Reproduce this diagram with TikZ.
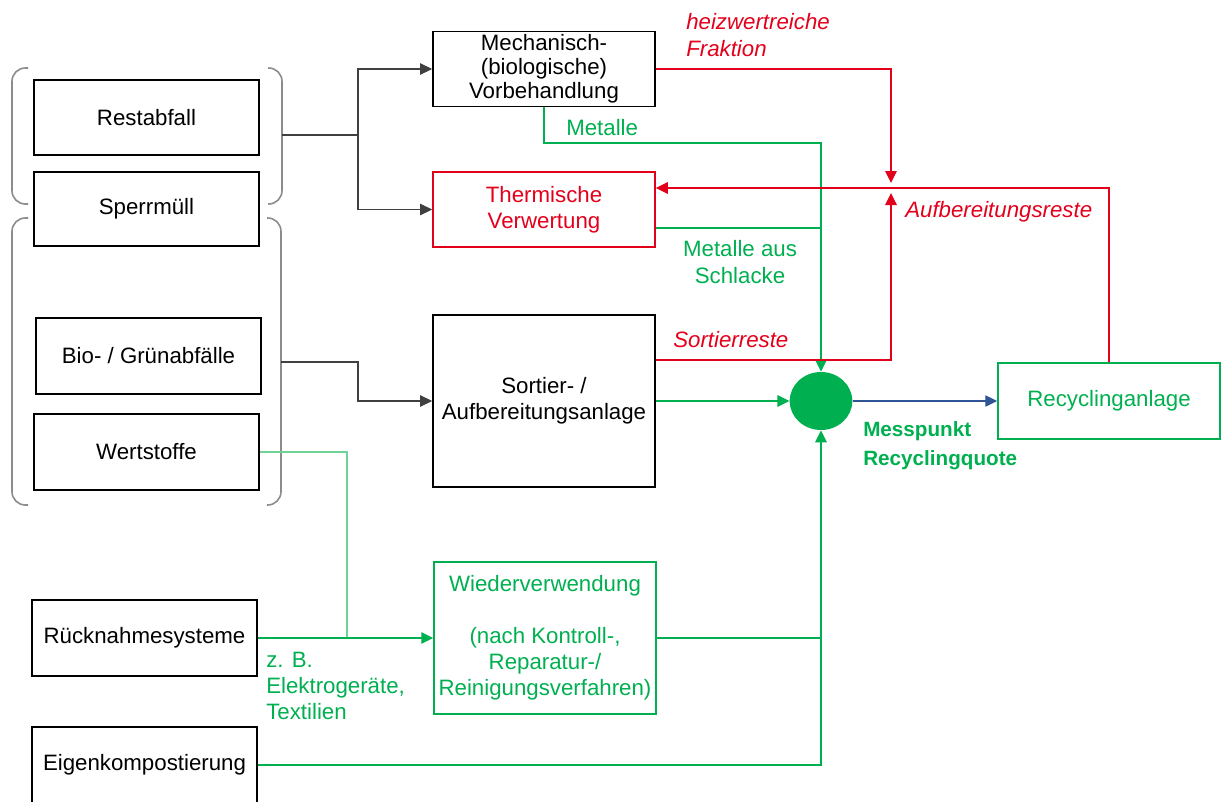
\documentclass[tikz,border=0pt]{standalone}
\usepackage{fontspec}
\setmainfont{Liberation Sans}
\usetikzlibrary{arrows.meta,calc,shapes.geometric}
\definecolor{myred}{HTML}{E3001B}
\definecolor{mygreen}{HTML}{00B050}
\definecolor{mylgreen}{HTML}{6FD395}
\definecolor{mygray}{HTML}{404040}
\definecolor{bracegray}{HTML}{8C8C8C}
\definecolor{myblue}{HTML}{2F5597}
\begin{document}
\begin{tikzpicture}[x=0.75pt,y=-0.75pt,
  every node/.style={font=\fontsize{16.7}{19.5}\selectfont},
  box/.style={draw=black, line width=1.2pt, inner sep=0pt, align=center},
  srcbox/.style={box, minimum width=168.75pt, minimum height=56.25pt},
  procbox/.style={box, minimum width=166.5pt, minimum height=56.25pt},
  tip/.style={-{Triangle[length=9pt,width=8.5pt]}},
  gcon/.style={draw=mygray, line width=0.9pt},
  grn/.style={draw=mygreen, line width=1.4pt},
  lgrn/.style={draw=mylgreen, line width=1.1pt},
  rd/.style={draw=myred, line width=1.4pt},
  bl/.style={draw=myblue, line width=0.9pt},
  brace/.style={draw=bracegray, line width=1.2pt, rounded corners=10pt},
  lbl/.style={inner sep=0pt, align=left, anchor=west}
]
\useasboundingbox (0,0) rectangle (1222,801);

% source boxes
\node[srcbox] (rest) at (146.5,117.5) {Restabfall};
\node[srcbox, minimum height=55.5pt] (sperr) at (146.5,209) {Sperrmüll};
\node[srcbox, minimum height=57pt] (bio) at (148.5,356) {Bio- / Grünabfälle};
\node[srcbox, minimum height=57pt] (wert) at (146.5,452) {Wertstoffe};
\node[srcbox, minimum height=57pt] (rueck) at (144.5,638) {Rücknahmesysteme};
\node[srcbox, minimum height=57pt] (eigen) at (144.5,765) {Eigenkompostierung};

% braces
\draw[brace] (28,68) -- (12,68) -- (12,204) -- (28,204);
\draw[brace] (268,68) -- (282,68) -- (282,204) -- (268,204);
\draw[brace] (28,218) -- (12,218) -- (12,505) -- (28,505);
\draw[brace] (267,218) -- (281,218) -- (281,505) -- (267,505);
\coordinate (ub) at (282,135);
\coordinate (lb) at (281,362);

% process boxes
\node[procbox, font=\fontsize{16.7}{18}\selectfont] (mech) at (544,69) {Mechanisch-\\(biologische)\\Vorbehandlung};
\node[procbox, draw=myred, text=myred] (therm) at (544,209.5) {Thermische\\Verwertung};
\node[procbox, minimum height=129pt] (sort) at (544,401) {Sortier- /\\Aufbereitungsanlage};
\node[procbox, draw=mygreen, text=mygreen, line width=1.1pt, minimum height=114pt] (wieder) at (545,638) {Wiederverwendung\\[19.5pt](nach Kontroll-,\\Reparatur-/\\Reinigungsverfahren)};
\node[procbox, draw=mygreen, text=mygreen, line width=1.1pt, minimum height=57pt] (recyc) at (1109,401) {Recyclinganlage};
\node[ellipse, fill=mygreen, minimum width=47pt, minimum height=43.5pt, inner sep=0pt] (mp) at (821,401) {};

% gray connectors
\draw[gcon] (ub) -- (358,135) coordinate (ubj);
\draw[gcon, tip] (ubj) |- (mech.west);
\draw[gcon, tip] (ubj) |- (therm.west);
\draw[gcon, tip] (lb) -- (358,362) |- (sort.west);

% green connectors
\draw[grn, tip] (mech.south) -- ++(0,35.5) -| (mp.north);
\coordinate (tg) at ($(therm.east)+(0,18.5)$);
\draw[grn] (tg) -- (tg -| mp.north);
\draw[grn, tip] (sort.east) -- (mp.west);
\draw[grn, tip] (wieder.east) -| (mp.south);
\draw[grn] (eigen.east) -| (wieder.east -| mp.south);
\coordinate (wj) at (347,638);
\draw[lgrn] (wert.east) -| (wj);
\draw[grn, tip] (rueck.east) -- (wieder.west);

% red connectors
\coordinate (jt) at (891,183);
\coordinate (jb) at (891,193);
\coordinate (tin) at ($(therm.east)+(0,-21.5)$);
\coordinate (so) at ($(sort.east)+(0,-41)$);
\draw[rd, tip] (mech.east) -| (jt);
\draw[rd, tip] (recyc.north) |- (tin);
\draw[rd, tip] (so) -| (jb);

% blue connector
\draw[bl, tip] (mp.east) -- (recyc.west);

% labels
\node[lbl, text=myred, font=\fontsize{16.7}{20.25}\itshape] (l1) at (686,35.5) {heizwertreiche\\Fraktion};
\node[lbl, text=mygreen] (l2) at (566,128) {Metalle};
\node[inner sep=0pt, align=center, text=mygreen, font=\fontsize{16.7}{20.25}\selectfont] (l3) at (740,262.5) {Metalle aus\\Schlacke};
\node[lbl, text=myred, font=\fontsize{16.7}{19.5}\itshape] (l4) at (905,212) {Aufbereitungsreste};
\node[lbl, text=myred, font=\fontsize{16.7}{19.5}\itshape] (l5) at (673,340) {Sortierreste};
\node[lbl, text=mygreen, font=\fontsize{15.5}{21.75}\bfseries] (l6) at (863,445.5) {Messpunkt\\Recyclingquote};
\node[lbl, text=mygreen] (l7) at (266,686) {z. B.\\Elektrogeräte,\\Textilien};
\end{tikzpicture}
\end{document}
